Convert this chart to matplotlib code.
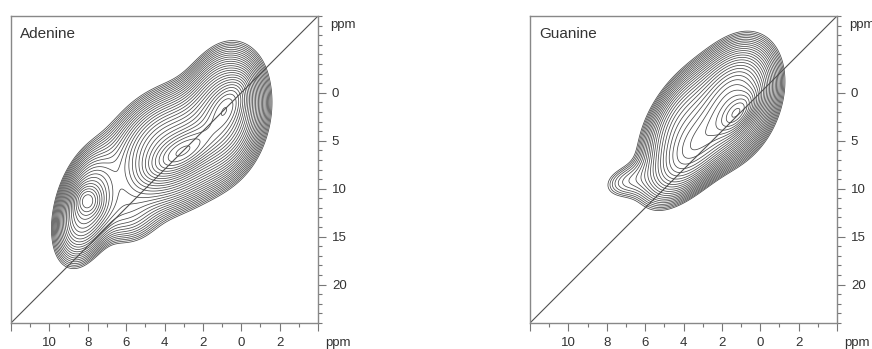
import numpy as np
import matplotlib
matplotlib.use("Agg")
import matplotlib.pyplot as plt
from matplotlib.ticker import MultipleLocator, FixedLocator, FixedFormatter

plt.rcParams['font.family'] = ['Liberation Sans', 'DejaVu Sans']

# Peak lists (SQ ppm, DQ ppm, width along / across axis in ppm, angle deg, height)
adenine_sq = [0.85, 3.71, 3.04, 0.69, 8.10, 8.04, 6.06]
adenine_dq = [2.0, 5.97, 6.18, 1.28, 11.9, 11.19, 12.75]
adenine_wa = [1.72, 1.88, 1.15, 0.94, 1.62, 0.47, 1.05]
adenine_wb = [1.09, 1.46, 0.52, 0.47, 0.80, 0.42, 1.05]
adenine_ang = [80, 42, 33, 60, 75, 90, 0]
adenine_h = [0.4, 0.4, 0.35, 0.2, 0.3, 0.15, 0.08]

guanine_sq = [1.32, 1.16, 3.40, 4.18, 7.1]
guanine_dq = [0.76, 2.11, 5.97, 2.84, 9.3]
guanine_wa = [1.67, 0.73, 1.82, 1.82, 0.94]
guanine_wb = [1.09, 0.36, 0.83, 0.90, 0.63]
guanine_ang = [70, 50, 50, 60, 20]
guanine_h = [0.4, 0.25, 0.3, 0.18, 0.05]

sq_ticks = [12, 10, 8, 6, 4, 2, 0, -2, -4]
sq_labels = ['', '10', '8', '6', '4', '2', '0', '2', '']
dq_ticks = [0, 5, 10, 15, 20]
dq_labels = ['0', '5', '10', '15', '20']

SQ_LIM = (12, -4)
DQ_LIM = (-8, 24)


def spectrum(sq, dq, sqc, dqc, wa, wb, ang, h):
    # work in (-SQ, -DQ/2) so the DQ = 2 SQ diagonal runs at 45 degrees
    u = -sq
    v = -dq / 2.0
    z = np.zeros_like(sq)
    for c1, c2, a, b, t, amp in zip(sqc, dqc, wa, wb, ang, h):
        th = np.deg2rad(t)
        du = u + c1
        dv = v + c2 / 2.0
        r1 = du * np.cos(th) + dv * np.sin(th)
        r2 = -du * np.sin(th) + dv * np.cos(th)
        z += amp * np.exp(-0.5 * ((r1 / a) ** 2 + (r2 / b) ** 2))
    return z


sq_axis = np.linspace(SQ_LIM[1], SQ_LIM[0], 600)
dq_axis = np.linspace(DQ_LIM[0], DQ_LIM[1], 600)
SQ, DQ = np.meshgrid(sq_axis, dq_axis)

fig = plt.figure(figsize=(8.72, 3.49), dpi=100)
W, H = 872, 349
panels = [
    ("Adenine", 11, (adenine_sq, adenine_dq, adenine_wa, adenine_wb, adenine_ang, adenine_h)),
    ("Guanine", 530, (guanine_sq, guanine_dq, guanine_wa, guanine_wb, guanine_ang, guanine_h)),
]

for name, left, pk in panels:
    ax = fig.add_axes([left / W, 26 / H, 307 / W, 307 / H])
    Z = spectrum(SQ, DQ, *pk)
    levels = np.geomspace(0.05, 0.97, 28) * Z.max()
    ax.contour(SQ, DQ, Z, levels=levels, colors='#484848', linewidths=0.55)
    ax.plot([SQ_LIM[0], SQ_LIM[1]], [2 * SQ_LIM[0], 2 * SQ_LIM[1]], color='#505050', lw=0.8)
    ax.set_xlim(*SQ_LIM)
    ax.set_ylim(DQ_LIM[1], DQ_LIM[0])
    ax.xaxis.set_major_locator(FixedLocator(sq_ticks))
    ax.xaxis.set_major_formatter(FixedFormatter(sq_labels))
    ax.xaxis.set_minor_locator(MultipleLocator(1))
    ax.yaxis.set_major_locator(FixedLocator(dq_ticks))
    ax.yaxis.set_major_formatter(FixedFormatter(dq_labels))
    ax.yaxis.set_minor_locator(MultipleLocator(1))
    ax.yaxis.tick_right()
    ax.tick_params(which='both', direction='out', color='#777777', labelsize=9.5,
                   labelcolor='#333333', width=0.8)
    ax.tick_params(which='major', length=6, pad=4)
    ax.tick_params(which='minor', length=3)
    for s in ax.spines.values():
        s.set_color('#888888')
        s.set_linewidth(1.0)
    ax.text(0.03, 0.965, name, transform=ax.transAxes, ha='left', va='top',
            fontsize=11, color='#333333')
    ax.text(1.04, 0.97, 'ppm', transform=ax.transAxes, ha='left', va='center',
            fontsize=9.5, color='#333333', clip_on=False)
    ax.text(1.023, -0.065, 'ppm', transform=ax.transAxes, ha='left', va='center',
            fontsize=9.5, color='#333333', clip_on=False)

fig.savefig('out.png', dpi=100)
